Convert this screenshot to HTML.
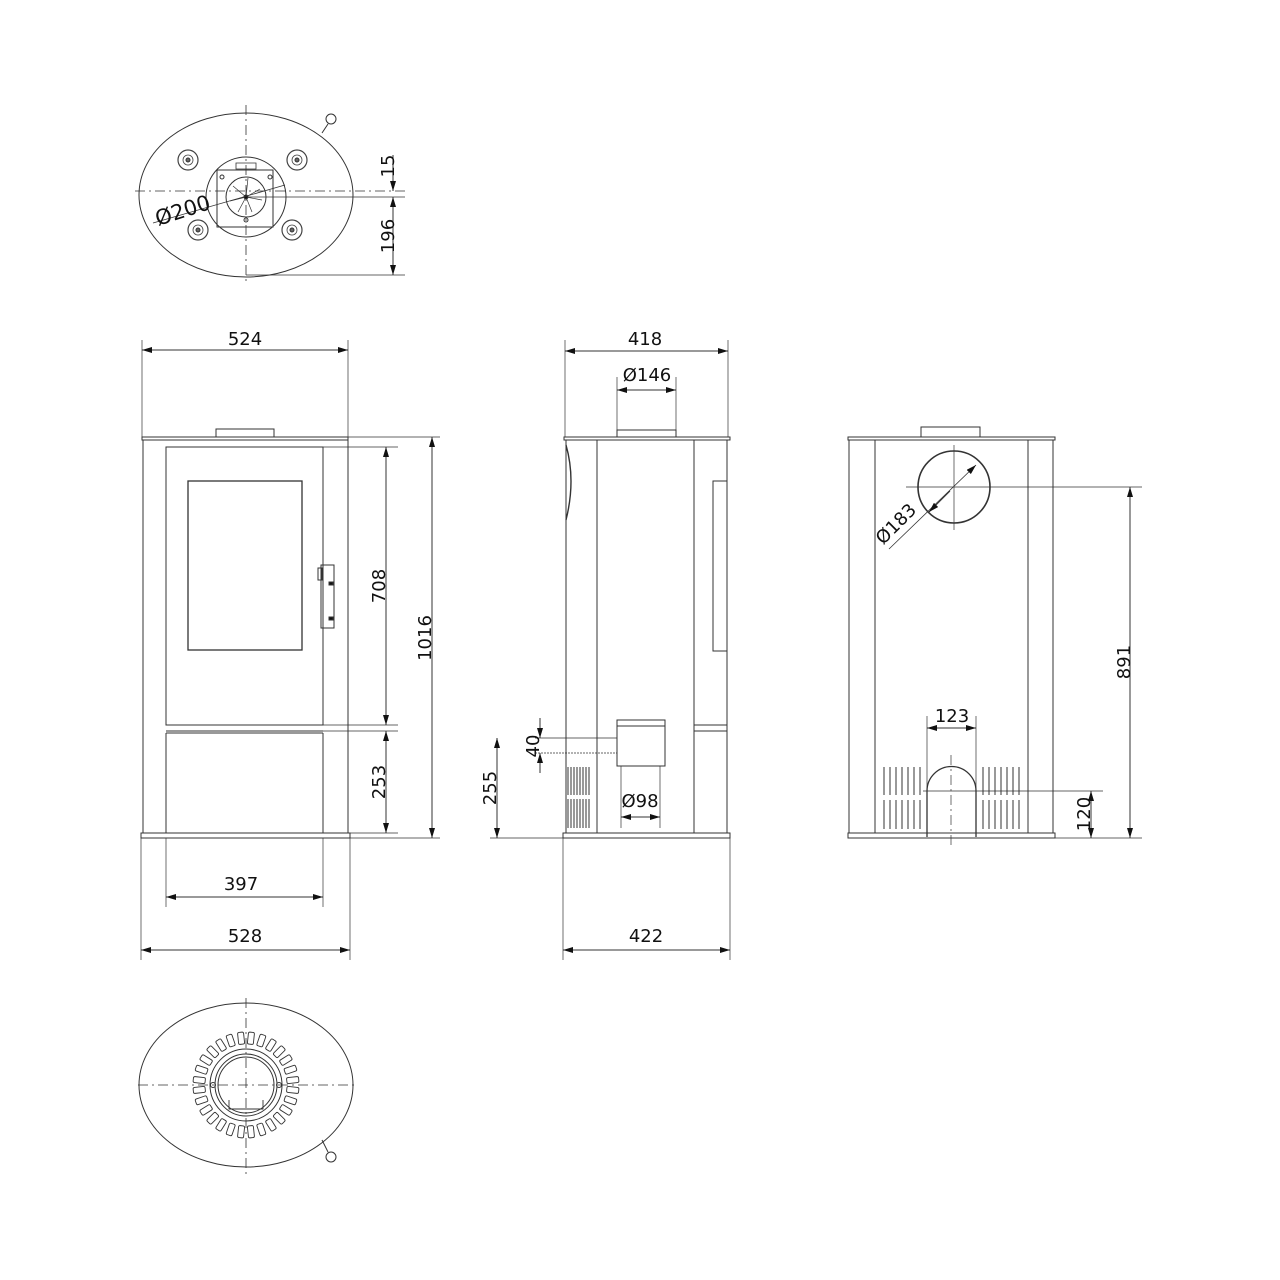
<!DOCTYPE html>
<html><head><meta charset="utf-8"><style>
html,body{margin:0;padding:0;background:#fff}
svg{display:block}
text{font-family:"DejaVu Sans","Liberation Sans",sans-serif;font-size:18px;fill:#111}
</style></head><body>
<svg width="1280" height="1280" viewBox="0 0 1280 1280" xmlns="http://www.w3.org/2000/svg">
<defs>
<marker id="a" viewBox="0 0 10 6" refX="10" refY="3" markerWidth="10" markerHeight="6" orient="auto-start-reverse" markerUnits="userSpaceOnUse"><path d="M0,0 L10,3 L0,6z" fill="#111"/></marker>
<g id="slot"><rect x="-3" y="-53" width="6" height="12" rx="1.5" fill="none" stroke="#333" stroke-width="0.9"/></g>
<g id="burner"><circle r="10" fill="none" stroke="#444" stroke-width="1.2"/><circle r="5" fill="none" stroke="#444" stroke-width="0.8"/><circle r="2" fill="#666"/></g>
</defs>
<g fill="none" stroke="#333" stroke-width="1">
<!-- TOP VIEW -->
<ellipse cx="246" cy="195" rx="107" ry="82"/>
<line x1="246" y1="105" x2="246" y2="282" stroke-dasharray="10,4,2,4" stroke-width="0.8"/>
<line x1="135" y1="191" x2="405" y2="191" stroke-dasharray="10,4,2,4" stroke-width="0.8"/>
<line x1="246" y1="197" x2="405" y2="197" stroke-width="0.8"/>
<line x1="246" y1="275" x2="405" y2="275" stroke-width="0.8"/>
<line x1="322" y1="133" x2="328" y2="124"/><circle cx="331" cy="119" r="5"/>
<circle cx="246" cy="197" r="40"/>
<rect x="217" y="170" width="56" height="57"/>
<circle cx="246" cy="197" r="20"/>
<path d="M246,197 l14,-8 M246,197 l16,3 M246,197 l6,15 M246,197 l-8,15 M246,197 l-16,4 M246,197 l-13,-11 M246,197 l2,-19" stroke-width="0.7"/>
<circle cx="246" cy="197" r="2" fill="#111"/>
<circle cx="222" cy="177" r="2"/><circle cx="270" cy="177" r="2"/><circle cx="246" cy="220" r="2"/>
<path d="M236,163 h20 v6 h-20z" stroke-width="0.8"/>
<use href="#burner" x="188" y="160"/><use href="#burner" x="297" y="160"/>
<use href="#burner" x="198" y="230"/><use href="#burner" x="292" y="230"/>
<line x1="153" y1="223" x2="285" y2="185" stroke-width="0.8"/>
<line x1="393" y1="155" x2="393" y2="191" marker-end="url(#a)"/>
<line x1="393" y1="197" x2="393" y2="275" marker-start="url(#a)" marker-end="url(#a)"/>

<!-- FRONT VIEW -->
<rect x="216" y="429" width="58" height="8"/>
<rect x="142" y="437" width="206" height="3"/>
<rect x="143" y="440" width="205" height="393"/>
<rect x="166" y="447" width="157" height="278"/>
<rect x="188" y="481" width="114" height="169" stroke-width="1.3"/>
<rect x="321" y="565" width="13" height="63"/>
<rect x="318" y="568" width="4" height="12"/>
<rect x="329" y="582" width="4" height="3" fill="#111"/><rect x="329" y="617" width="4" height="3" fill="#111"/>
<line x1="166" y1="731" x2="323" y2="731"/><line x1="166" y1="733" x2="323" y2="733"/>
<line x1="166" y1="733" x2="166" y2="833"/><line x1="323" y1="733" x2="323" y2="833"/>
<rect x="141" y="833" width="209" height="5"/>
<line x1="142" y1="340" x2="142" y2="437" stroke-width="0.7"/><line x1="348" y1="340" x2="348" y2="437" stroke-width="0.7"/>
<line x1="142" y1="350" x2="348" y2="350" marker-start="url(#a)" marker-end="url(#a)"/>
<line x1="141" y1="838" x2="141" y2="960" stroke-width="0.7"/><line x1="350" y1="838" x2="350" y2="960" stroke-width="0.7"/>
<line x1="141" y1="950" x2="350" y2="950" marker-start="url(#a)" marker-end="url(#a)"/>
<line x1="166" y1="838" x2="166" y2="907" stroke-width="0.7"/><line x1="323" y1="838" x2="323" y2="907" stroke-width="0.7"/>
<line x1="166" y1="897" x2="323" y2="897" marker-start="url(#a)" marker-end="url(#a)"/>
<line x1="348" y1="437" x2="440" y2="437" stroke-width="0.7"/>
<line x1="323" y1="447" x2="398" y2="447" stroke-width="0.7"/>
<line x1="323" y1="725" x2="398" y2="725" stroke-width="0.7"/>
<line x1="323" y1="731" x2="398" y2="731" stroke-width="0.7"/>
<line x1="350" y1="833" x2="398" y2="833" stroke-width="0.7"/>
<line x1="350" y1="838" x2="440" y2="838" stroke-width="0.7"/>
<line x1="386" y1="447" x2="386" y2="725" marker-start="url(#a)" marker-end="url(#a)"/>
<line x1="386" y1="731" x2="386" y2="833" marker-start="url(#a)" marker-end="url(#a)"/>
<line x1="432" y1="437" x2="432" y2="838" marker-start="url(#a)" marker-end="url(#a)"/>

<!-- SIDE VIEW -->
<rect x="617" y="430" width="59" height="7"/>
<line x1="617" y1="377" x2="617" y2="437" stroke-width="0.7"/><line x1="676" y1="377" x2="676" y2="437" stroke-width="0.7"/>
<line x1="617" y1="390" x2="676" y2="390" marker-start="url(#a)" marker-end="url(#a)"/>
<line x1="565" y1="340" x2="565" y2="437" stroke-width="0.7"/><line x1="728" y1="340" x2="728" y2="437" stroke-width="0.7"/>
<line x1="565" y1="351" x2="728" y2="351" marker-start="url(#a)" marker-end="url(#a)"/>
<rect x="564" y="437" width="166" height="3"/>
<rect x="566" y="440" width="161" height="393"/>
<line x1="597" y1="440" x2="597" y2="833"/><line x1="694" y1="440" x2="694" y2="833"/>
<path d="M566,445 Q576,480 566,520" stroke-width="1.4"/>
<rect x="713" y="481" width="14" height="170"/>
<line x1="694" y1="725" x2="727" y2="725"/><line x1="694" y1="731" x2="727" y2="731"/>
<rect x="617" y="720" width="48" height="46"/>
<line x1="617" y1="726" x2="665" y2="726"/>
<path d="M568,767v28M571,767v28M574,767v28M577,767v28M580,767v28M583,767v28M586,767v28M589,767v28M568,799v29M571,799v29M574,799v29M577,799v29M580,799v29M583,799v29M586,799v29M589,799v29" stroke-width="1"/>
<line x1="621" y1="766" x2="621" y2="828" stroke-width="0.7"/><line x1="660" y1="766" x2="660" y2="828" stroke-width="0.7"/>
<line x1="621" y1="817" x2="660" y2="817" marker-start="url(#a)" marker-end="url(#a)"/>
<rect x="563" y="833" width="167" height="5"/>
<line x1="535" y1="738" x2="617" y2="738" stroke-width="0.7"/>
<line x1="535" y1="753" x2="617" y2="753" stroke-width="0.7" stroke-dasharray="2,1"/>
<line x1="540" y1="718" x2="540" y2="738" marker-end="url(#a)"/>
<line x1="540" y1="773" x2="540" y2="753" marker-end="url(#a)"/>
<line x1="490" y1="838" x2="563" y2="838" stroke-width="0.7"/>
<line x1="497" y1="738" x2="497" y2="838" marker-start="url(#a)" marker-end="url(#a)"/>
<line x1="563" y1="838" x2="563" y2="960" stroke-width="0.7"/><line x1="730" y1="838" x2="730" y2="960" stroke-width="0.7"/>
<line x1="563" y1="950" x2="730" y2="950" marker-start="url(#a)" marker-end="url(#a)"/>

<!-- BACK VIEW -->
<rect x="921" y="427" width="59" height="10"/>
<rect x="848" y="437" width="207" height="3"/>
<rect x="849" y="440" width="204" height="393"/>
<line x1="875" y1="440" x2="875" y2="833"/><line x1="1028" y1="440" x2="1028" y2="833"/>
<circle cx="954" cy="487" r="36" stroke-width="1.6"/>
<line x1="954" y1="445" x2="954" y2="530" stroke-width="0.7"/>
<line x1="906" y1="487" x2="1142" y2="487" stroke-width="0.7"/>
<line x1="889" y1="549" x2="976" y2="465" stroke-width="0.8" marker-end="url(#a)"/>
<line x1="950" y1="491" x2="929" y2="512" marker-end="url(#a)"/>
<path d="M927,837 V791 A24.5,24.5 0 0 1 976,791 V837" stroke-width="1.3"/>
<line x1="951" y1="755" x2="951" y2="845" stroke-dasharray="10,4,2,4" stroke-width="0.7"/>
<line x1="927" y1="716" x2="927" y2="837" stroke-width="0.7"/><line x1="976" y1="716" x2="976" y2="837" stroke-width="0.7"/>
<line x1="927" y1="728" x2="976" y2="728" marker-start="url(#a)" marker-end="url(#a)"/>
<g stroke-width="1">
<path d="M884,767v28M890,767v28M896,767v28M902,767v28M908,767v28M914,767v28M920,767v28M884,800v29M890,800v29M896,800v29M902,800v29M908,800v29M914,800v29M920,800v29"/>
<path d="M983,767v28M989,767v28M995,767v28M1001,767v28M1007,767v28M1013,767v28M1019,767v28M983,800v29M989,800v29M995,800v29M1001,800v29M1007,800v29M1013,800v29M1019,800v29"/>
</g>
<line x1="923" y1="791" x2="1103" y2="791" stroke-width="0.7"/>
<rect x="848" y="833" width="207" height="5"/>
<line x1="1055" y1="838" x2="1142" y2="838" stroke-width="0.7"/>
<line x1="1130" y1="487" x2="1130" y2="838" marker-start="url(#a)" marker-end="url(#a)"/>
<line x1="1091" y1="791" x2="1091" y2="838" marker-start="url(#a)" marker-end="url(#a)"/>

<!-- BOTTOM VIEW -->
<ellipse cx="246" cy="1085" rx="107" ry="82"/>
<line x1="246" y1="998" x2="246" y2="1175" stroke-dasharray="10,4,2,4" stroke-width="0.8"/>
<line x1="138" y1="1085" x2="355" y2="1085" stroke-dasharray="10,4,2,4" stroke-width="0.8"/>
<line x1="322" y1="1140" x2="328" y2="1152"/><circle cx="331" cy="1157" r="5"/>
<circle cx="246" cy="1085" r="36"/><circle cx="246" cy="1085" r="31"/><circle cx="246" cy="1085" r="28"/>
<circle cx="213" cy="1085" r="2.5"/><circle cx="279" cy="1085" r="2.5"/>
<path d="M229,1100 v9 h34 v-9" stroke-width="0.9"/>
<g transform="translate(246,1085)">
<use href="#slot" transform="rotate(6)"/><use href="#slot" transform="rotate(19)"/><use href="#slot" transform="rotate(32)"/><use href="#slot" transform="rotate(45)"/><use href="#slot" transform="rotate(58)"/><use href="#slot" transform="rotate(71)"/><use href="#slot" transform="rotate(84)"/><use href="#slot" transform="rotate(96)"/><use href="#slot" transform="rotate(109)"/><use href="#slot" transform="rotate(122)"/><use href="#slot" transform="rotate(135)"/><use href="#slot" transform="rotate(148)"/><use href="#slot" transform="rotate(161)"/><use href="#slot" transform="rotate(174)"/><use href="#slot" transform="rotate(186)"/><use href="#slot" transform="rotate(199)"/><use href="#slot" transform="rotate(212)"/><use href="#slot" transform="rotate(225)"/><use href="#slot" transform="rotate(238)"/><use href="#slot" transform="rotate(251)"/><use href="#slot" transform="rotate(264)"/><use href="#slot" transform="rotate(276)"/><use href="#slot" transform="rotate(289)"/><use href="#slot" transform="rotate(302)"/><use href="#slot" transform="rotate(315)"/><use href="#slot" transform="rotate(328)"/><use href="#slot" transform="rotate(341)"/><use href="#slot" transform="rotate(354)"/>
</g>
</g>

<!-- LABELS -->
<text x="158" y="226" style="font-size:21px" transform="rotate(-18 158 226)">Ø200</text>
<text x="387" y="173" text-anchor="middle" transform="rotate(-90 387 166)">15</text>
<text x="387" y="243" text-anchor="middle" transform="rotate(-90 387 236)">196</text>
<text x="245" y="345" text-anchor="middle">524</text>
<text x="241" y="890" text-anchor="middle">397</text>
<text x="245" y="942" text-anchor="middle">528</text>
<text x="379" y="592" text-anchor="middle" transform="rotate(-90 379 586)">708</text>
<text x="379" y="788" text-anchor="middle" transform="rotate(-90 379 782)">253</text>
<text x="425" y="644" text-anchor="middle" transform="rotate(-90 425 638)">1016</text>
<text x="645" y="345" text-anchor="middle">418</text>
<text x="647" y="381" text-anchor="middle">Ø146</text>
<text x="640" y="807" text-anchor="middle">Ø98</text>
<text x="646" y="942" text-anchor="middle">422</text>
<text x="533" y="752" text-anchor="middle" transform="rotate(-90 533 746)">40</text>
<text x="490" y="794" text-anchor="middle" transform="rotate(-90 490 788)">255</text>
<text x="896" y="530" text-anchor="middle" transform="rotate(-45 896 524)">Ø183</text>
<text x="952" y="722" text-anchor="middle">123</text>
<text x="1124" y="668" text-anchor="middle" transform="rotate(-90 1124 662)">891</text>
<text x="1084" y="820" text-anchor="middle" transform="rotate(-90 1084 814)">120</text>
</svg>
</body></html>
